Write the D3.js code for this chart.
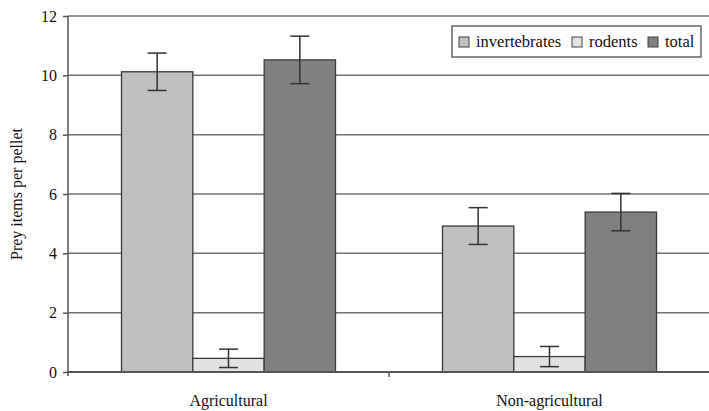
<!DOCTYPE html>
<html>
<head>
<meta charset="utf-8">
<script src="https://cdn.jsdelivr.net/npm/d3@7"></script>
<style>
  body { margin: 0; background: #fff; }
  svg text { font-family: "Liberation Serif", "Times New Roman", serif; fill: #111; }
</style>
</head>
<body>
<div id="chart"></div>
<script>
const svgWidth = 709
const svgHeight = 411
const serif = '"Liberation Serif", "Times New Roman", serif'

let margin = { top: 16, right: -1, bottom: 39, left: 68 }
let width = svgWidth - margin.left - margin.right
let height = svgHeight - margin.top - margin.bottom

// data
const categories = ["Agricultural", "Non-agricultural"]
const series = ["invertebrates", "rodents", "total"]
const invertebrates = [10.12, 4.92]
const rodents = [0.46, 0.52]
const total = [10.52, 5.39]
const invertebratesErr = [0.63, 0.62]
const rodentsErr = [0.31, 0.34]
const totalErr = [0.8, 0.63]
const yTicks = [0, 2, 4, 6, 8, 10, 12]

const colors = { invertebrates: "#c0c0c0", rodents: "#e2e2e2", total: "#808080" }

let rows = []
categories.forEach((c, i) => {
  rows.push({ cat: c, key: "invertebrates", value: invertebrates[i], err: invertebratesErr[i] })
  rows.push({ cat: c, key: "rodents", value: rodents[i], err: rodentsErr[i] })
  rows.push({ cat: c, key: "total", value: total[i], err: totalErr[i] })
})

let svg = d3.select("#chart").append("svg")
  .attr("width", svgWidth)
  .attr("height", svgHeight)

let chartGroup = svg.append("g")
  .attr("transform", `translate(${margin.left}, ${margin.top})`)

let x0 = d3.scaleBand().domain(categories).range([0, width])
let x1 = d3.scaleBand().domain(series).range([0, x0.bandwidth()]).paddingInner(0).paddingOuter(0.75)
let y = d3.scaleLinear().domain([0, 12]).range([height, 0])

// gridlines
chartGroup.append("g")
  .selectAll("line")
  .data(yTicks.filter(d => d > 0))
  .enter()
  .append("line")
  .attr("x1", 0)
  .attr("x2", width)
  .attr("y1", d => y(d))
  .attr("y2", d => y(d))
  .attr("stroke", "#737373")
  .attr("stroke-width", 1.5)

// y axis
let leftAxis = d3.axisLeft(y).tickValues(yTicks).tickSize(5).tickPadding(6)
let yAxis = chartGroup.append("g").call(leftAxis).attr("font-family", serif)
yAxis.select(".domain").attr("stroke", "#555").attr("stroke-width", 1.5).attr("d", `M0,0V${height + 4}`)
yAxis.selectAll(".tick line").attr("stroke", "#555").attr("stroke-width", 1.5)
yAxis.selectAll(".tick text").attr("font-size", 16).attr("fill", "#111")

// bars
let bars = chartGroup.append("g")
  .selectAll("rect")
  .data(rows)
  .enter()
  .append("rect")
  .attr("x", d => x0(d.cat) + x1(d.key))
  .attr("y", d => y(d.value))
  .attr("width", x1.bandwidth())
  .attr("height", d => height - y(d.value))
  .attr("fill", d => colors[d.key])
  .attr("stroke", "#3a3a3a")
  .attr("stroke-width", 1.3)

// x axis baseline and category ticks
chartGroup.append("line")
  .attr("x1", 0).attr("x2", width)
  .attr("y1", height).attr("y2", height)
  .attr("stroke", "#555").attr("stroke-width", 1.8)

chartGroup.append("g")
  .selectAll("line")
  .data(categories.slice(1))
  .enter()
  .append("line")
  .attr("x1", d => x0(d)).attr("x2", d => x0(d))
  .attr("y1", height).attr("y2", height + 5)
  .attr("stroke", "#555").attr("stroke-width", 1.5)

chartGroup.append("g")
  .selectAll("text")
  .data(categories)
  .enter()
  .append("text")
  .attr("x", d => x0(d) + x0.bandwidth() / 2)
  .attr("y", height + 34)
  .attr("font-family", serif)
  .attr("font-size", 16)
  .attr("text-anchor", "middle")
  .text(d => d)

// error bars
let errG = chartGroup.append("g").attr("stroke", "#333").attr("stroke-width", 1.5)
rows.forEach(d => {
  let cx = x0(d.cat) + x1(d.key) + x1.bandwidth() / 2
  let top = y(d.value + d.err)
  let bot = y(d.value - d.err)
  errG.append("line").attr("x1", cx).attr("x2", cx).attr("y1", top).attr("y2", bot)
  errG.append("line").attr("x1", cx - 9.5).attr("x2", cx + 9.5).attr("y1", top).attr("y2", top)
  errG.append("line").attr("x1", cx - 9.5).attr("x2", cx + 9.5).attr("y1", bot).attr("y2", bot)
})

// y label
svg.append("text")
  .attr("transform", `translate(22, ${margin.top + height / 2}) rotate(-90)`)
  .attr("font-family", serif)
  .attr("font-size", 16)
  .attr("text-anchor", "middle")
  .text("Prey items per pellet")

// legend
let legend = svg.append("g").attr("transform", "translate(452, 26)")
legend.append("rect")
  .attr("width", 249).attr("height", 31)
  .attr("fill", "#fff").attr("stroke", "#666").attr("stroke-width", 1.5)

const legendX = [7, 120, 196]
series.forEach((s, i) => {
  let item = legend.append("g").attr("transform", `translate(${legendX[i]}, 0)`)
  item.append("rect")
    .attr("x", 0).attr("y", 11)
    .attr("width", 10).attr("height", 10)
    .attr("fill", colors[s]).attr("stroke", "#444").attr("stroke-width", 1)
  item.append("text")
    .attr("x", 17).attr("y", 21)
    .attr("font-family", serif)
    .attr("font-size", 16.5)
    .text(s)
})
</script>
</body>
</html>
